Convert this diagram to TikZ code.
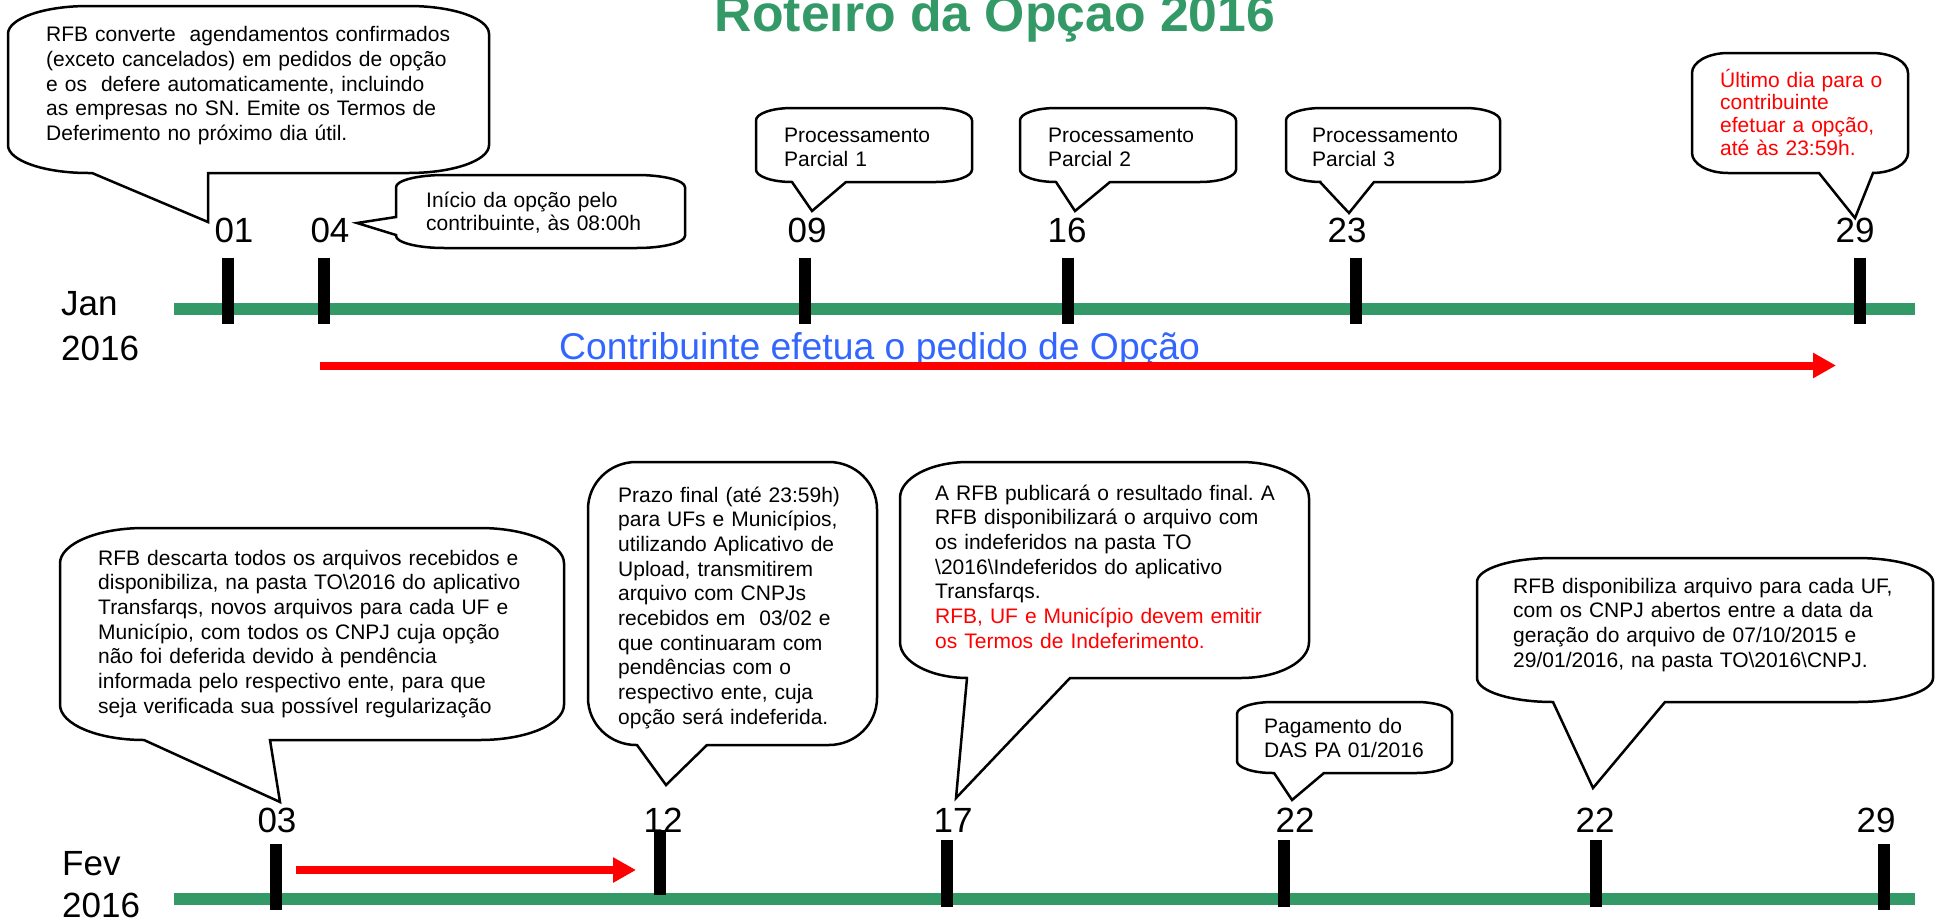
\documentclass[tikz,border=0pt]{standalone}
\usepackage{fontspec}
\setmainfont{Liberation Sans}
\usetikzlibrary{arrows.meta}
\frenchspacing
\definecolor{tlgreen}{HTML}{339966}
\definecolor{tlblue}{HTML}{3366FF}
\tikzset{
  tickbar/.style={line width=12.5pt,black},
  timebar/.style={line width=12pt,tlgreen},
  daylbl/.style={font=\fontsize{35}{42}\selectfont,anchor=base,inner sep=0pt},
  monlbl/.style={font=\fontsize{35}{42}\selectfont,anchor=base west,inner sep=0pt},
  ctext/.style={font=\fontsize{21}{24.7}\selectfont,anchor=base west,inner sep=0pt,text width=520pt,align=left},
  callout/.style={draw=black,line width=2.5pt,fill=white,line join=miter},
  redarrow/.style={red,line width=8pt,-{Triangle[length=23pt,width=24pt]}}
}
% bottom tail callout: x1,y1,x2,y2, tail-left, tipx, tipy, tail-right
\newcommand{\callB}[8]{%
  \pgfmathsetmacro{\crx}{(#3-#1)/6}%
  \pgfmathsetmacro{\cry}{(#4-#2)/6}%
  \draw[callout] (#1+\crx,#2) -- (#3-\crx,#2)
    .. controls (#3-0.448*\crx,#2) and (#3,#2+0.448*\cry) .. (#3,#2+\cry)
    -- (#3,#4-\cry)
    .. controls (#3,#4-0.448*\cry) and (#3-0.448*\crx,#4) .. (#3-\crx,#4)
    -- (#8,#4) -- (#6,#7) -- (#5,#4) -- (#1+\crx,#4)
    .. controls (#1+0.448*\crx,#4) and (#1,#4-0.448*\cry) .. (#1,#4-\cry)
    -- (#1,#2+\cry)
    .. controls (#1,#2+0.448*\cry) and (#1+0.448*\crx,#2) .. (#1+\crx,#2) -- cycle;}
% left tail callout: x1,y1,x2,y2, tail-top, tipx, tipy, tail-bottom
\newcommand{\callL}[8]{%
  \pgfmathsetmacro{\crx}{(#3-#1)/6}%
  \pgfmathsetmacro{\cry}{(#4-#2)/6}%
  \draw[callout] (#1+\crx,#2) -- (#3-\crx,#2)
    .. controls (#3-0.448*\crx,#2) and (#3,#2+0.448*\cry) .. (#3,#2+\cry)
    -- (#3,#4-\cry)
    .. controls (#3,#4-0.448*\cry) and (#3-0.448*\crx,#4) .. (#3-\crx,#4)
    -- (#1+\crx,#4)
    .. controls (#1+0.448*\crx,#4) and (#1,#4-0.448*\cry) .. (#1,#4-\cry)
    -- (#1,#8) -- (#6,#7) -- (#1,#5)
    -- (#1,#2+\cry)
    .. controls (#1,#2+0.448*\cry) and (#1+0.448*\crx,#2) .. (#1+\crx,#2) -- cycle;}
\begin{document}
\begin{tikzpicture}[x=1pt,y=-1pt]
\useasboundingbox (0,0) rectangle (1935,921);
\fill[white] (0,0) rectangle (1935,921);

% title
\node[font=\fontsize{51.7}{60}\selectfont\bfseries,text=tlgreen,anchor=base,inner sep=0pt] (title) at (995,31) {Roteiro da Opçao 2016};

% ---------------- January ----------------
\coordinate (janL) at (174,309);
\coordinate (janR) at (1915,309);
\draw[timebar] (janL) -- (janR);
\foreach \x/\n in {228/j01,324/j04,805/j09,1068/j16,1356/j23,1860/j29}{
  \coordinate (\n t) at (\x,258);
  \coordinate (\n b) at (\x,324);
  \draw[tickbar] (\n t) -- (\n b);
}
\node[monlbl] (jan) at (61,315) {Jan};
\node[monlbl] (jany) at (61,360) {2016};

\node[font=\fontsize{37.3}{44}\selectfont,text=tlblue,anchor=base west,inner sep=0pt] (contrib) at (559,359) {Contribuinte efetua o pedido de Opção};
\coordinate (jaS) at (320,365.5);
\coordinate (jaE) at (1836,365.5);
\draw[redarrow] (jaS) -- (jaE);

% callouts January
\callB{8}{6}{489}{173}{92}{208}{222}{208}
\node[ctext] (c1) at (46,41.7) {RFB converte\ \ agendamentos confirmados\\(exceto cancelados) em pedidos de opção\\e os\ \ defere automaticamente, incluindo\\as empresas no SN. Emite os Termos de\\Deferimento no próximo dia útil.};

\callL{396}{175}{685}{248}{217}{357}{223}{235}
\node[ctext,font=\fontsize{21}{23}\selectfont] (c2) at (426,207) {Início da opção pelo\\contribuinte, às 08:00h};

\callB{756}{108}{972}{182}{792}{812}{211}{846}
\node[ctext] (c3) at (784,142) {Processamento\\Parcial 1};

\callB{1020}{108}{1236}{182}{1056}{1075}{211}{1110}
\node[ctext] (c4) at (1048,142) {Processamento\\Parcial 2};

\callB{1286}{108}{1500}{182}{1320}{1349}{213}{1374}
\node[ctext] (c5) at (1312,142) {Processamento\\Parcial 3};

\callB{1692}{53}{1908}{173}{1819}{1855}{218}{1873}
\node[ctext,font=\fontsize{21}{22.8}\selectfont,text=red] (c6) at (1720,87) {Último dia para o\\contribuinte\\efetuar a opção,\\até às 23:59h.};

% day labels January
\node[daylbl] (l01) at (234,242) {01};
\node[daylbl] (l04) at (330,242) {04};
\node[daylbl] (l09) at (807,242) {09};
\node[daylbl] (l16) at (1067,242) {16};
\node[daylbl] (l23) at (1347,242) {23};
\node[daylbl] (l29) at (1855,242) {29};

% ---------------- February ----------------
\coordinate (fevL) at (174,898.5);
\coordinate (fevR) at (1915,898.5);
\draw[timebar] (fevL) -- (fevR);
\node[monlbl] (fev) at (62,875) {Fev};
\node[monlbl] (fevy) at (62,917) {2016};

\callB{60}{528}{564}{740}{144}{280}{802}{270}
\node[ctext] (d1) at (98,565) {RFB descarta todos os arquivos recebidos e\\disponibiliza, na pasta TO\textbackslash 2016 do aplicativo\\Transfarqs, novos arquivos para cada UF e\\Município, com todos os CNPJ cuja opção\\não foi deferida devido à pendência\\informada pelo respectivo ente, para que\\seja verificada sua possível regularização};

\callB{588}{462}{877}{745}{637}{666}{785}{707}
\node[ctext] (d2) at (618,502) {Prazo final (até 23:59h)\\para UFs e Municípios,\\utilizando Aplicativo de\\Upload, transmitirem\\arquivo com CNPJs\\recebidos em\ \ 03/02 e\\que continuaram com\\pendências com o\\respectivo ente, cuja\\opção será indeferida.};

\callB{900}{462}{1309}{678}{967}{956}{798}{1070}
\node[ctext] (d3) at (935,500) {A RFB publicará o resultado final. A\\RFB disponibilizará o arquivo com\\os indeferidos na pasta TO\\\textbackslash 2016\textbackslash Indeferidos do aplicativo\\Transfarqs.\\\textcolor{red}{RFB, UF e Município devem emitir}\\\textcolor{red}{os Termos de Indeferimento.}};

\callB{1237}{702}{1452}{773}{1274}{1292}{800}{1324}
\node[ctext] (d4) at (1264,733) {Pagamento do\\DAS PA 01/2016};

\callB{1477}{558}{1933}{702}{1553}{1593}{788}{1665}
\node[ctext] (d5) at (1513,593) {RFB disponibiliza arquivo para cada UF,\\com os CNPJ abertos entre a data da\\geração do arquivo de 07/10/2015 e\\29/01/2016, na pasta TO\textbackslash 2016\textbackslash CNPJ.};

% day labels February
\node[daylbl] (m03) at (277,832) {03};
\node[daylbl] (m12) at (663,832) {12};
\node[daylbl] (m17) at (953,832) {17};
\node[daylbl] (m22a) at (1295,832) {22};
\node[daylbl] (m22b) at (1595,832) {22};
\node[daylbl] (m29) at (1876,832) {29};

% ticks February
\coordinate (f03t) at (276,844); \coordinate (f03b) at (276,910);
\coordinate (f12t) at (660,830); \coordinate (f12b) at (660,895);
\coordinate (f17t) at (947,840); \coordinate (f17b) at (947,907);
\coordinate (f22at) at (1284,840); \coordinate (f22ab) at (1284,907);
\coordinate (f22bt) at (1596,840); \coordinate (f22bb) at (1596,907);
\coordinate (f29t) at (1884,844); \coordinate (f29b) at (1884,910);
\foreach \n in {f03,f12,f17,f22a,f22b,f29}{\draw[tickbar] (\n t) -- (\n b);}

\coordinate (faS) at (296,870);
\coordinate (faE) at (636,870);
\draw[redarrow] (faS) -- (faE);
\end{tikzpicture}
\end{document}
